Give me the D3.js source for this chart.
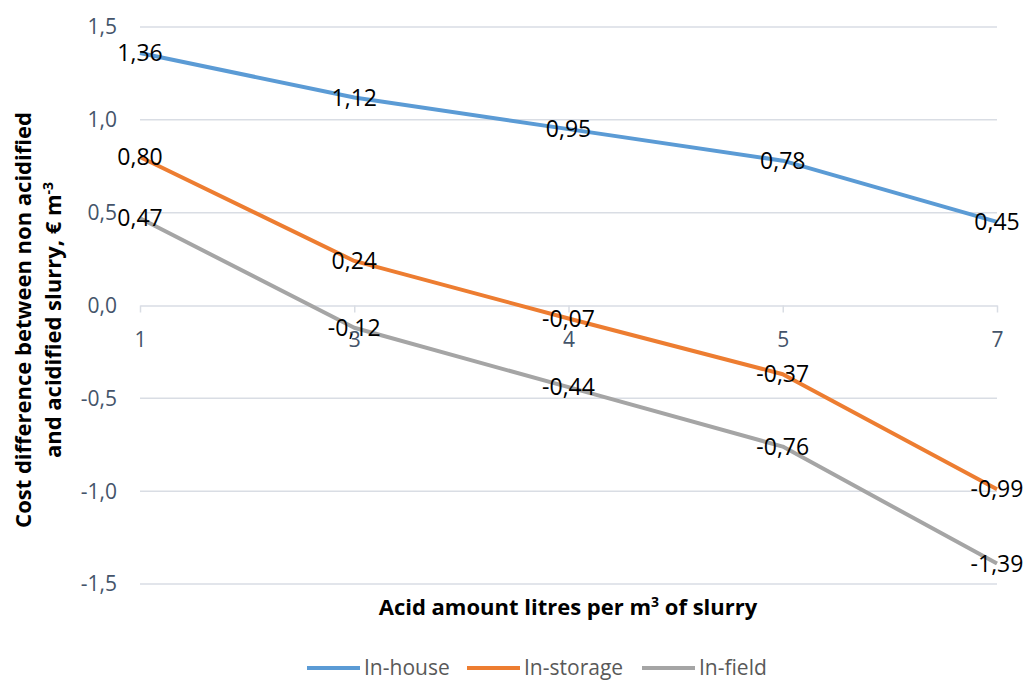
<!DOCTYPE html>
<html>
<head>
<meta charset="utf-8">
<script src="https://cdn.jsdelivr.net/npm/d3@7"></script>
<style>
  body { margin: 0; background: #fff; }
  svg { font-family: "Open Sans", sans-serif; }
</style>
</head>
<body>
<div id="chart"></div>
<script>
// chart data
const categories = ["1", "3", "4", "5", "7"];
const inHouse = [1.36, 1.12, 0.95, 0.78, 0.45];
const inStorage = [0.80, 0.24, -0.07, -0.37, -0.99];
const inField = [0.47, -0.12, -0.44, -0.76, -1.39];
const yTicks = [-1.5, -1.0, -0.5, 0.0, 0.5, 1.0, 1.5];
const seriesNames = ["In-house", "In-storage", "In-field"];
const seriesColors = ["#5B9BD5", "#ED7D31", "#A5A5A5"];

const width = 1023;
const height = 680;
const margin = {left: 140, right: 26, top: 27, bottom: 96};

const svg = d3.select("#chart")
  .append("svg")
  .attr("width", width)
  .attr("height", height);

const x = d3.scalePoint()
  .domain(categories)
  .range([margin.left, width - margin.right]);

const y = d3.scaleLinear()
  .domain([-1.5, 1.5])
  .range([height - margin.bottom, margin.top]);

const fmt = d => d3.format(".1f")(d).replace(".", ",").replace("−", "-");
const fmt2 = d => d3.format(".2f")(d).replace(".", ",").replace("−", "-");

// gridlines
svg.append("g")
  .selectAll("line")
  .data(yTicks.filter(d => d !== 0))
  .enter()
  .append("line")
    .attr("x1", margin.left)
    .attr("x2", width - margin.right)
    .attr("y1", d => y(d))
    .attr("y2", d => y(d))
    .attr("stroke", "#D9DDE4")
    .attr("stroke-width", 1.5);

// y tick labels
svg.append("g")
  .selectAll("text")
  .data(yTicks)
  .enter()
  .append("text")
    .attr("x", 117)
    .attr("y", d => y(d))
    .attr("dy", "0.35em")
    .attr("text-anchor", "end")
    .attr("font-size", "21px")
    .attr("fill", "#44546A")
    .text(d => fmt(d));

// x axis at zero
const xAxis = svg.append("g")
  .attr("transform", `translate(0, ${y(0)})`)
  .call(d3.axisBottom(x).tickSize(7).tickPadding(20).tickSizeOuter(0));
xAxis.select(".domain").attr("stroke", "#D9DDE4").attr("stroke-width", 1.5);
xAxis.selectAll(".tick line").attr("stroke", "#D9DDE4").attr("stroke-width", 1.5);
xAxis.selectAll(".tick text")
  .attr("font-size", "21px")
  .attr("fill", "#44546A")
  .attr("font-family", "'Open Sans', sans-serif");

// lines
const allSeries = [inHouse, inStorage, inField];
const line = d3.line()
  .x((d, i) => x(categories[i]))
  .y(d => y(d));

svg.append("g")
  .selectAll("path")
  .data(allSeries)
  .enter()
  .append("path")
    .attr("d", d => line(d))
    .attr("fill", "none")
    .attr("stroke", (d, i) => seriesColors[i])
    .attr("stroke-width", 4)
    .attr("stroke-linejoin", "round");

// data labels
allSeries.forEach(s => {
  svg.append("g")
    .selectAll("text")
    .data(s)
    .enter()
    .append("text")
      .attr("x", (d, i) => x(categories[i]))
      .attr("y", d => y(d))
      .attr("dy", "0.35em")
      .attr("text-anchor", "middle")
      .attr("font-size", "23px")
      .attr("fill", "#000")
      .text(d => fmt2(d));
});

// axis titles
svg.append("text")
  .attr("x", 568)
  .attr("y", 615)
  .attr("text-anchor", "middle")
  .attr("font-size", "22px")
  .attr("font-weight", "bold")
  .html("Acid amount litres per m<tspan dy='-8' font-size='14px'>3</tspan><tspan dy='8'> of slurry</tspan>");

const yTitle = svg.append("text")
  .attr("transform", "translate(0, 320) rotate(-90)")
  .attr("text-anchor", "middle")
  .attr("font-size", "22px")
  .attr("font-weight", "bold");
yTitle.append("tspan").attr("x", 0).attr("y", 31).text("Cost difference between non acidified");
yTitle.append("tspan").attr("x", 0).attr("y", 61)
  .html("and acidified slurry, € m<tspan dy='-8' font-size='14px'>-3</tspan>");

// legend
const legendX = [307, 467, 642];
const legend = svg.append("g");
seriesNames.forEach((name, i) => {
  legend.append("line")
    .attr("x1", legendX[i])
    .attr("x2", legendX[i] + 53)
    .attr("y1", 668)
    .attr("y2", 668)
    .attr("stroke", seriesColors[i])
    .attr("stroke-width", 4);
  legend.append("text")
    .attr("x", legendX[i] + 57)
    .attr("y", 668)
    .attr("dy", "0.35em")
    .attr("font-size", "21px")
    .attr("fill", "#595959")
    .text(name);
});
</script>
</body>
</html>
